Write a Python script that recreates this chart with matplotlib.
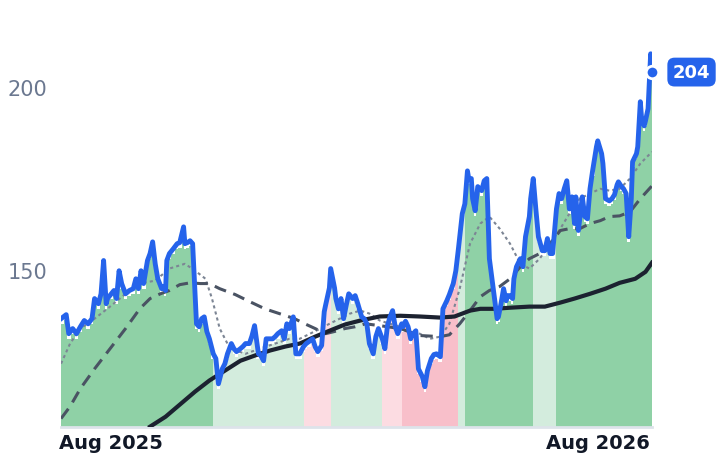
import numpy as np
import pandas as pd
import matplotlib.pyplot as plt
import matplotlib.transforms as mtransforms

start = pd.Timestamp("2025-06-23")

# day offset of each price reading from start
price_days = [0, 4, 6, 9, 12, 15, 18, 21, 24, 26, 29, 31, 33, 35, 36, 39, 41, 43, 45, 47, 50, 53, 56, 58, 60,
              62, 64, 67, 69, 71, 73, 75, 78, 79, 81, 82, 84, 87, 90, 92, 95, 96, 98, 100, 102, 105, 107, 109, 111,
              113, 115, 118, 120, 122, 125, 127, 129, 132, 134, 136, 139, 141, 143, 146, 148, 150, 153, 154, 157,
              159, 161, 164, 166, 168, 171, 173, 175, 177, 180, 182, 185, 188, 190, 192, 195, 197, 199, 202, 204,
              205, 208, 209, 212, 213, 215, 217, 219, 221, 223, 226, 228, 230, 233, 235, 237, 239, 242, 244, 246,
              249, 251, 253, 255, 257, 259, 261, 264, 265, 267, 269, 271, 273, 275, 277, 280, 282, 284, 287, 289,
              291, 294, 296, 299, 301, 304, 306, 308, 311, 313, 315, 316, 318, 319, 321, 323, 326, 328, 330, 332,
              334, 336, 338, 339, 341, 343, 345, 346, 348, 350, 351, 353, 356, 358, 360, 363, 364, 366, 368, 370,
              373, 375, 377, 379, 381, 384, 386, 388, 390, 392, 394, 396, 398, 399, 401, 404, 406, 408, 410, 412,
              415, 416, 419, 420, 422, 425, 427, 429, 431, 432, 434, 436, 438, 440, 442, 443, 446, 447, 449, 450,
              452, 453, 455, 456, 457, 458]
price = [136.6, 137.7, 132.5, 133.9, 132.5, 134.4, 136.1, 135.2, 136.6, 142.1, 140.7, 143.4, 152.5, 140.7, 142.1,
         143.4, 144.3, 142.1, 149.7, 146.2, 143.4, 144.3, 144.8, 147.5, 144.8, 149.7, 146.2, 152.5, 154.4, 157.6,
         151.6, 147.5, 144.8, 145.4, 144.3, 152.5, 154.4, 155.7, 157.1, 157.4, 161.7, 157.1, 157.4, 157.9, 157.1,
         135.2, 134.4, 136.6, 137.1, 133.1, 131.1, 127.0, 125.7, 118.8, 122.9, 124.3, 127.0, 129.8, 128.4, 127.6,
         128.4, 129.0, 129.8, 129.8, 131.9, 134.7, 127.0, 127.0, 125.1, 131.1, 131.1, 131.1, 131.7, 132.5, 133.3,
         131.1, 135.2, 133.9, 137.1, 127.0, 127.0, 129.0, 129.8, 130.3, 131.1, 128.9, 127.6, 129.3, 138.5, 140.2,
         145.0, 150.3, 145.0, 142.1, 139.3, 142.1, 136.6, 140.2, 143.4, 142.1, 142.9, 140.7, 137.1, 136.6, 135.2,
         129.8, 127.0, 131.7, 133.9, 131.1, 128.4, 134.7, 137.1, 138.8, 134.4, 132.5, 135.2, 134.4, 135.9, 134.4,
         131.1, 132.5, 133.3, 122.9, 120.8, 118.0, 122.4, 125.7, 126.8, 127.0, 126.2, 139.3, 141.5, 143.2, 146.2,
         149.7, 155.7, 165.3, 168.0, 177.0, 174.9, 174.9, 169.4, 166.1, 172.7, 171.6, 174.3, 174.9, 153.0, 147.5,
         142.1, 136.6, 137.1, 140.7, 144.8, 141.5, 142.9, 142.9, 142.1, 147.5, 150.8, 153.0, 150.8, 159.0, 164.5,
         169.4, 174.9, 166.6, 159.0, 155.2, 155.2, 158.5, 154.4, 154.4, 166.6, 170.8, 169.4, 172.1, 174.3, 166.6,
         169.9, 162.6, 169.9, 160.7, 169.9, 164.5, 163.9, 172.1, 177.0, 183.6, 185.2, 181.7, 179.0, 169.4, 168.8,
         169.4, 170.5, 173.2, 174.0, 172.9, 172.1, 170.8, 159.0, 169.4, 179.5, 181.7, 183.6, 195.9, 191.2, 189.3,
         190.7, 194.0, 201.6, 209.0, 204.0]

# moving averages, read as (day offset, value)
fast_days = [0, 7, 15, 26, 38, 50, 61, 73, 84, 96, 104, 112, 117, 123, 131, 143, 154, 166, 177, 185, 193, 201, 208,
             216, 224, 232, 239, 247, 255, 263, 270, 278, 286, 294, 301, 309, 317, 325, 332, 340, 348, 356, 363, 371,
             379, 387, 394, 402, 410, 418, 425, 433, 441, 449, 458]
fast_ma = [124.3, 129.8, 133.9, 136.6, 139.9, 143.4, 146.2, 147.0, 150.3, 151.6, 149.7, 147.5, 142.1, 133.9, 128.4,
           127.0, 128.4, 129.8, 131.1, 131.1, 132.5, 133.9, 135.2, 136.6, 138.0, 138.8, 138.0, 136.1, 135.2, 134.4,
           133.9, 132.5, 131.1, 131.7, 135.2, 144.8, 157.1, 162.6, 164.5, 161.2, 157.1, 151.6, 150.3, 153.0, 157.1,
           161.2, 165.3, 169.4, 170.8, 172.1, 171.6, 172.1, 174.9, 179.0, 182.2]
mid_days = [0, 7, 15, 26, 38, 50, 61, 69, 77, 84, 92, 100, 108, 115, 123, 135, 146, 158, 170, 181, 189, 197, 205,
            212, 220, 228, 236, 247, 263, 278, 294, 301, 309, 317, 325, 332, 340, 348, 356, 363, 371, 379, 387, 394,
            402, 410, 418, 425, 433, 441, 449, 458]
mid_ma = [109.3, 112.6, 117.5, 122.9, 128.4, 133.9, 139.3, 142.1, 143.4, 144.3, 145.9, 146.4, 146.2, 146.2, 144.8,
          143.2, 141.3, 139.3, 137.9, 136.6, 135.2, 133.9, 132.5, 133.1, 133.9, 134.4, 135.2, 134.7, 133.9, 132.0,
          131.7, 132.2, 135.2, 138.8, 142.6, 144.3, 145.4, 147.5, 150.8, 153.0, 154.4, 157.1, 160.7, 161.2, 161.2,
          162.6, 163.4, 164.5, 164.7, 165.8, 169.4, 172.9]
slow_days = [69, 81, 92, 104, 115, 127, 139, 150, 162, 174, 185, 197, 208, 220, 232, 247, 263, 278, 294, 305, 317,
             325, 336, 348, 363, 375, 387, 398, 410, 422, 433, 445, 453, 458]
slow_ma = [107.1, 109.8, 113.1, 116.7, 119.7, 122.4, 125.1, 126.5, 127.9, 129.0, 129.8, 131.7, 133.3, 135.0, 136.1,
           137.2, 137.4, 137.2, 136.9, 137.2, 138.8, 139.3, 139.3, 139.6, 139.9, 139.9, 141.0, 142.1, 143.4, 144.8,
           146.4, 147.5, 149.4, 151.9]

# regime segments: end day of each segment and its type
regime_end = [119, 189, 210, 248, 264, 308, 314, 367, 384, 459]
regime_kind = ["bull", "bull_weak", "bear_weak", "bull_weak", "bear_weak", "bear", "bull_weak", "bull", "bull_weak", "bull"]
regime_color = {"bull": "#8fd1a6", "bull_weak": "#d3ecdd", "bear": "#f8bfca", "bear_weak": "#fcdce2"}

days = np.array(price_days)
dates = start + pd.to_timedelta(days, "D")
price = np.array(price)
end = dates[-1]

fig = plt.figure(figsize=(7.18, 4.64), dpi=100)
ax = fig.add_axes([0.085, 0.0776, 0.823, 0.828])

lo = 107.0
prev = -1
for e, k in zip(regime_end, regime_kind):
    m = (days > prev - 2) & (days <= e + 2)
    ax.fill_between(dates[m], lo, price[m] - 1.5, step="mid", color=regime_color[k], lw=0, zorder=1)
    prev = e

ax.plot(start + pd.to_timedelta(fast_days, "D"), fast_ma, color="#7c8594", lw=1.5, ls=(0, (1.5, 1.5)), zorder=2)
ax.plot(start + pd.to_timedelta(mid_days, "D"), mid_ma, color="#4a5363", lw=2.2, ls=(0, (4, 2.5)), zorder=3)
ax.plot(start + pd.to_timedelta(slow_days, "D"), slow_ma, color="#1c2230", lw=3, zorder=4)
ax.plot(dates, price, color="#2563eb", lw=3.5, zorder=5, solid_joinstyle="round")

ax.plot(dates[-1], price[-1], "o", ms=9, mfc="#2563eb", mec="white", mew=2, zorder=6, clip_on=False)
ax.annotate("204", (dates[-1], price[-1]), xytext=(15, 0), textcoords="offset points",
            color="white", fontsize=13, fontweight="bold", va="center", ha="left",
            bbox=dict(boxstyle="round,pad=0.3,rounding_size=0.4", fc="#2563eb", ec="none"), annotation_clip=False)

ax.set_xlim(start, end)
ax.set_ylim(lo, 212)
ax.set_yticks([150, 200])
ax.tick_params(axis="y", length=0, labelsize=15, labelcolor="#6b7890", pad=10)
ax.set_xticks([pd.Timestamp("2025-08-01"), pd.Timestamp("2026-08-01")])
ax.set_xticklabels(["Aug 2025", "Aug 2026"], fontsize=14, fontweight="bold", color="#111827")
ax.tick_params(axis="x", length=0, pad=4)
last = ax.get_xticklabels()[-1]
last.set_transform(last.get_transform() + mtransforms.ScaledTranslation(16 / 100, 0, fig.dpi_scale_trans))
for s in ["top", "right", "left"]:
    ax.spines[s].set_visible(False)
ax.spines["bottom"].set_color("#dde3ea")
ax.spines["bottom"].set_linewidth(2)

fig.savefig("out.png", dpi=100)
